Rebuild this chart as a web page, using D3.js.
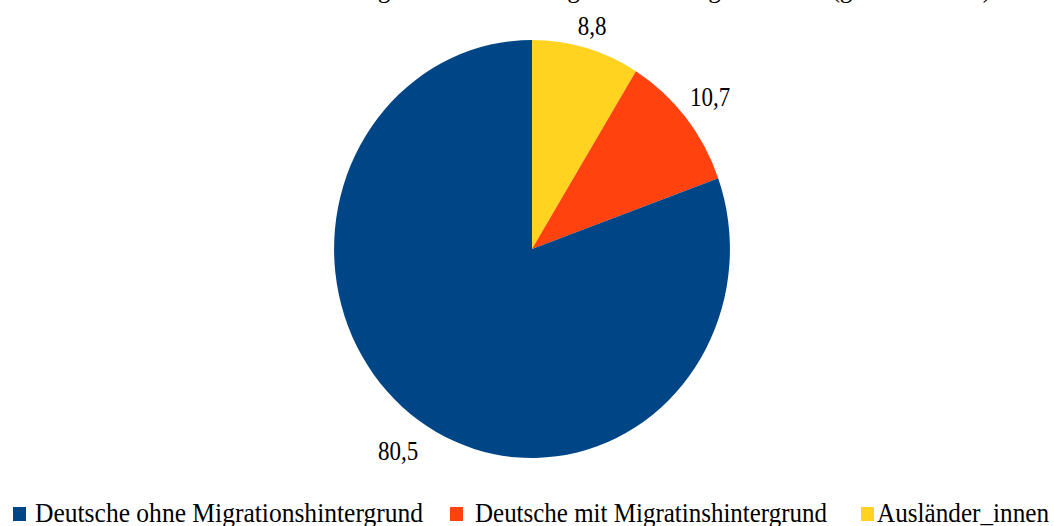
<!DOCTYPE html>
<html>
<head>
<meta charset="utf-8">
<script src="https://cdn.jsdelivr.net/npm/d3@7"></script>
<style>
  body { margin: 0; background: #fff; overflow: hidden; }
  text { font-family: "Liberation Serif", "Times New Roman", serif; fill: #000; }
</style>
</head>
<body>
<div id="chart"></div>
<script>
var categories = ["Deutsche ohne Migrationshintergrund", "Deutsche mit Migratinshintergrund", "Ausländer_innen"];
var values = [80.5, 10.7, 8.8];
var valueLabels = ["80,5", "10,7", "8,8"];
var colors = ["#004586", "#ff420e", "#ffd320"];
var title = "Anteile der Bevölkerung mit und ohne Migrationshintergrund 2019 (gerundet in %)";

var svg_Width = 1054;
var svg_Height = 526;
var cx = 532, cy = 249;
var radius = 209;
var squeeze = 0.947;   // the original is a little narrower than tall

var svg = d3.select('#chart')
    .append('svg')
    .attr('width', svg_Width)
    .attr('height', svg_Height);

// title, mostly cut off above the picture
svg.append('text')
    .attr('transform', 'translate(565,-3) scale(0.91,1)')
    .attr('text-anchor', 'middle')
    .attr('font-size', '28px')
    .text(title);

var data = categories.map(function(c, i) {
  return { name: c, value: values[i], label: valueLabels[i], color: colors[i] };
});

// slices run clockwise from 12 o'clock: yellow, orange, blue
var pie = d3.pie()
    .sort(null)
    .value(function(d) { return d.value; });
var arcs = pie(data.slice().reverse());

var arc = d3.arc().innerRadius(0).outerRadius(radius);

var pieGroup = svg.append('g')
    .attr('transform', 'translate(' + cx + ',' + cy + ') scale(' + squeeze + ',1)');

pieGroup.selectAll('path')
    .data(arcs)
    .enter()
    .append('path')
    .attr('d', arc)
    .attr('fill', function(d) { return d.data.color; });

// labels sit closer to the rim near the top than at the sides
function labelPos(d) {
  var a = (d.startAngle + d.endAngle) / 2;
  var r = 246 - 15 * Math.pow(Math.max(0, Math.cos(a)), 3);
  var c = d3.arc().innerRadius(r).outerRadius(r).centroid(d);
  return [cx + c[0] * squeeze, cy + c[1]];
}

svg.selectAll('.valueLabel')
    .data(arcs)
    .enter()
    .append('text')
    .attr('class', 'valueLabel')
    .attr('transform', function(d) {
      var p = labelPos(d);
      return 'translate(' + p[0] + ',' + p[1] + ') scale(0.82,1)';
    })
    .attr('text-anchor', 'middle')
    .attr('dy', '0.35em')
    .attr('font-size', '28px')
    .text(function(d) { return d.data.label; });

// legend
var legendX = [13, 450, 861];
var legendTextX = [22, 25, 16];
var legendTextW = [388, 352, 172];
var legend = svg.selectAll('.legendItem')
    .data(data)
    .enter()
    .append('g')
    .attr('class', 'legendItem')
    .attr('transform', function(d, i) { return 'translate(' + legendX[i] + ',0)'; });

legend.append('rect')
    .attr('x', 0)
    .attr('y', 507)
    .attr('width', 13)
    .attr('height', 14)
    .attr('fill', function(d) { return d.color; });

legend.append('text')
    .attr('x', function(d, i) { return legendTextX[i]; })
    .attr('y', 522)
    .attr('font-size', '27px')
    .attr('textLength', function(d, i) { return legendTextW[i]; })
    .attr('lengthAdjust', 'spacingAndGlyphs')
    .text(function(d) { return d.name; });
</script>
</body>
</html>
